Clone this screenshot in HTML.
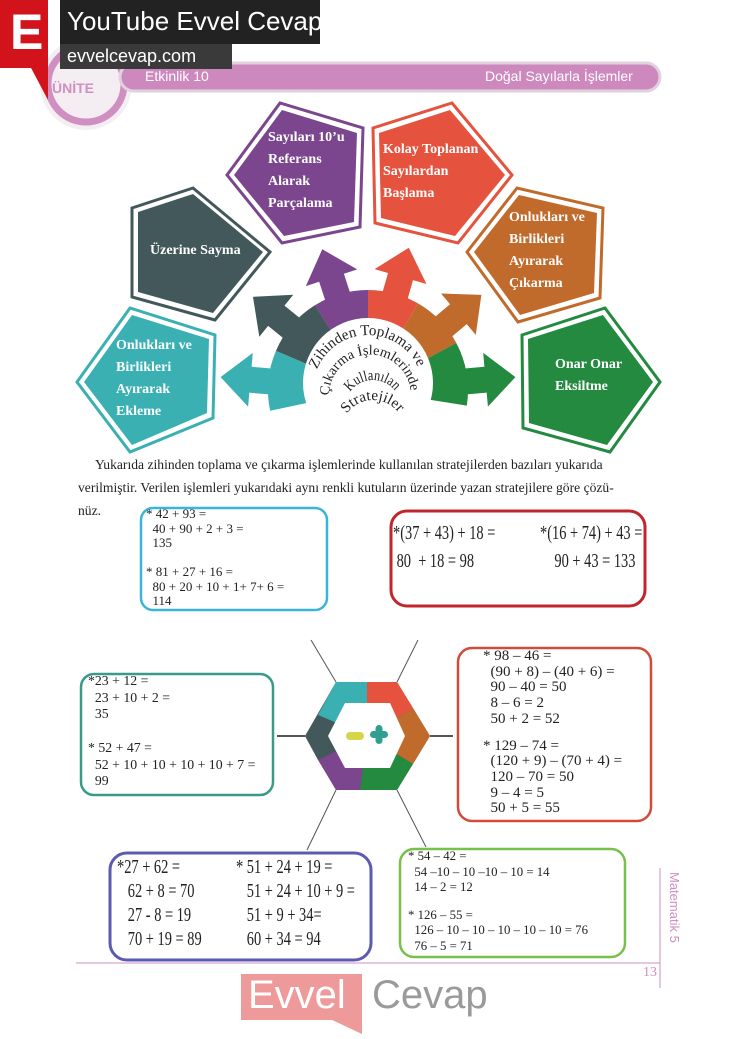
<!DOCTYPE html>
<html><head><meta charset="utf-8"><style>
html,body{margin:0;padding:0;background:#fff;}
body{width:737px;height:1039px;position:relative;overflow:hidden;font-family:"Liberation Serif",serif;}
.a{position:absolute;white-space:nowrap;}
.big{font-family:"Liberation Serif",serif;font-size:20px;color:#222;transform:scaleX(0.72);transform-origin:0 0;}
</style></head><body>
<svg width="737" height="1039" style="position:absolute;left:0;top:0">
<defs>
<polygon id="ar" points="55,-13 118,-13 118,-27 148,0 118,27 118,13 55,13"/>
<path id="l1" d="M317,369.4 A55,55 0 0 1 419,369.4"/>
<path id="l2" d="M329,395.6 A41,41 0 0 1 411,395.6"/>
<path id="l3" d="M350.1,391.9 A28,28 0 0 1 395.9,391.9"/>
<path id="l4" d="M346.8,413.6 A32,32 0 0 1 399.2,413.6"/>
</defs>
<!-- unit circle -->
<circle cx="86" cy="84" r="46" fill="#f4eef3"/>
<circle cx="86" cy="84" r="38" fill="none" stroke="#cf8fc0" stroke-width="7"/>
<rect x="120" y="63" width="540" height="28" rx="14" fill="#cd89bd" stroke="#e0d2dd" stroke-width="3"/>
<!-- header -->
<rect x="0" y="0" width="48" height="68" fill="#d3131c"/>
<polygon points="30,66 48,66 48,100" fill="#d3131c"/>
<rect x="60" y="0" width="260" height="44" fill="#222"/>
<rect x="60" y="44" width="172" height="25" fill="#3a3a3a"/>
<!-- pentagons -->
<g stroke-width="3" fill="none" stroke-linejoin="miter">
<polygon points="227,175 280,103 363,128 360,227 282,243" stroke="#7b468e"/>
<polygon points="234,175 282,110 357,133 354,222 284,236" fill="#7b468e" stroke="none"/>
<polygon points="373,128 452,103 512,175 458,243 375,223" stroke="#e5533f"/>
<polygon points="379,133 450,110 505,175 455,236 381,218" fill="#e5533f" stroke="none"/>
<polygon points="132,208 193,188 270,252 215,320 132,297" stroke="#43585b"/>
<polygon points="138,212 193,194 263,252 213,313 138,292" fill="#43585b" stroke="none"/>
<polygon points="467,252 517,188 603,208 600,298 518,322" stroke="#c06a2c"/>
<polygon points="474,252 519,195 597,213 594,293 520,315" fill="#c06a2c" stroke="none"/>
<polygon points="77,382 130,308 215,335 213,418 130,452" stroke="#3ab0b3"/>
<polygon points="84,382 132,315 209,339 207,413 132,445" fill="#3ab0b3" stroke="none"/>
<polygon points="522,335 605,308 660,382 610,452 523,428" stroke="#238a40"/>
<polygon points="528,339 603,315 653,382 607,445 529,423" fill="#238a40" stroke="none"/>
</g>
<!-- center arrows -->
<g transform="translate(368,390)">
<g transform="rotate(168)"><path d="M0,0 L100,0 A100,100 0 0 1 81.9,57.4 Z" fill="#3ab0b3"/></g>
<g transform="rotate(203)"><path d="M0,0 L100,0 A100,100 0 0 1 81.9,57.4 Z" fill="#43585b"/></g>
<g transform="rotate(238)"><path d="M0,0 L100,0 A100,100 0 0 1 84.8,53 Z" fill="#7b468e"/></g>
<g transform="rotate(270)"><path d="M0,0 L100,0 A100,100 0 0 1 86.6,50 Z" fill="#e5533f"/></g>
<g transform="rotate(300)"><path d="M0,0 L100,0 A100,100 0 0 1 84.8,53 Z" fill="#c06a2c"/></g>
<g transform="rotate(332)"><path d="M0,0 L100,0 A100,100 0 0 1 79.9,60.2 Z" fill="#238a40"/></g>
<use href="#ar" transform="rotate(185)" fill="#3ab0b3"/>
<use href="#ar" transform="rotate(219)" fill="#43585b"/>
<use href="#ar" transform="rotate(252)" fill="#7b468e"/>
<use href="#ar" transform="rotate(286)" fill="#e5533f"/>
<use href="#ar" transform="rotate(320)" fill="#c06a2c"/>
<use href="#ar" transform="rotate(355)" fill="#238a40"/>
</g>
<circle cx="368" cy="383" r="65" fill="#fff"/>
<g font-family="Liberation Serif" font-size="15" fill="#222">
<text><textPath href="#l1" textLength="128" lengthAdjust="spacingAndGlyphs">Zihinden Toplama ve</textPath></text>
<text font-size="14"><textPath href="#l2" textLength="124" lengthAdjust="spacingAndGlyphs">Çıkarma İşlemlerinde</textPath></text>
<text><textPath href="#l3" textLength="52" lengthAdjust="spacingAndGlyphs">Kullanılan</textPath></text>
<text><textPath href="#l4" textLength="60" lengthAdjust="spacingAndGlyphs">Stratejiler</textPath></text>
</g>
<!-- connector lines -->
<g stroke="#555" stroke-width="1">
<line x1="336" y1="682" x2="311" y2="640"/>
<line x1="397" y1="682" x2="418" y2="640"/>
<line x1="277" y1="736" x2="305" y2="736" stroke-width="2"/>
<line x1="430" y1="736" x2="453" y2="736" stroke-width="2"/>
<line x1="336" y1="790" x2="307" y2="850"/>
<line x1="397" y1="790" x2="426" y2="847"/>
</g>
<!-- hexagon -->
<polygon points="336,682 397,682 430,736 397,790 336,790 305,736" fill="#555"/>
<polygon points="336,682 367,682 367,736 318,715" fill="#3ab0b3"/>
<polygon points="367,682 397,682 413,708 367,736" fill="#e5533f"/>
<polygon points="413,708 430,736 413,764 367,736" fill="#c06a2c"/>
<polygon points="413,764 397,790 360,790 367,736" fill="#238a40"/>
<polygon points="360,790 336,790 318,760 367,736" fill="#7b468e"/>
<polygon points="318,760 305,736 318,715 367,736" fill="#43585b"/>
<polygon points="345,703 390,703 405,736 390,768 345,768 328,736" fill="#fff"/>
<rect x="346" y="732" width="18" height="8" rx="4" fill="#d6d54a"/>
<rect x="370" y="731" width="18" height="7" rx="3.5" fill="#2fa090"/>
<rect x="375.5" y="725" width="7" height="19" rx="3.5" fill="#2fa090"/>
<!-- boxes -->
<rect x="141" y="508" width="186" height="102" rx="12" fill="none" stroke="#3ab4d8" stroke-width="2.5"/>
<rect x="391" y="511" width="254" height="95" rx="16" fill="none" stroke="#c0262d" stroke-width="3"/>
<rect x="81" y="674" width="192" height="121" rx="13" fill="none" stroke="#3a9a8a" stroke-width="2.5"/>
<rect x="458" y="648" width="193" height="173" rx="14" fill="none" stroke="#d24b38" stroke-width="2.5"/>
<rect x="110" y="853" width="261" height="107" rx="17" fill="none" stroke="#5c5bb3" stroke-width="3"/>
<rect x="400" y="849" width="225" height="108" rx="14" fill="none" stroke="#77c04a" stroke-width="2.5"/>
<!-- footer -->
<line x1="76" y1="963" x2="660" y2="963" stroke="#cf8fc0" stroke-width="1"/>
<line x1="660" y1="868" x2="660" y2="988" stroke="#cf8fc0" stroke-width="1"/>
<rect x="241" y="974" width="121" height="46" fill="#ee9a9a"/>
<polygon points="330,1019 362,1019 362,1034" fill="#ee9a9a"/>
</svg>

<div class="a" style="left:10px;top:2px;font-family:'Liberation Sans',sans-serif;font-weight:bold;font-size:50px;line-height:60px;color:#fff;">E</div>
<div class="a" style="left:67px;top:4px;font-family:'Liberation Sans',sans-serif;font-size:26px;line-height:34px;color:#fff;">YouTube Evvel Cevap</div>
<div class="a" style="left:67px;top:45px;font-family:'Liberation Sans',sans-serif;font-size:18px;line-height:22px;color:#fff;">evvelcevap.com</div>
<div class="a" style="left:52px;top:80px;font-family:'Liberation Sans',sans-serif;font-size:14px;color:#cf8fc0;font-weight:bold;">ÜNİTE</div>
<div class="a" style="left:145px;top:68px;font-family:'Liberation Sans',sans-serif;font-size:14px;color:#fff;">Etkinlik 10</div>
<div class="a" style="left:485px;top:68px;font-family:'Liberation Sans',sans-serif;font-size:14px;color:#fff;">Doğal Sayılarla İşlemler</div>

<div class="a" style="left:268px;top:127px;font-weight:bold;font-size:14px;line-height:22px;color:#fff;">Sayıları 10’u<br>Referans<br>Alarak<br>Parçalama</div>
<div class="a" style="left:383px;top:139px;font-weight:bold;font-size:14px;line-height:22px;color:#fff;">Kolay Toplanan<br>Sayılardan<br>Başlama</div>
<div class="a" style="left:150px;top:241px;font-weight:bold;font-size:14px;line-height:20px;color:#fff;">Üzerine Sayma</div>
<div class="a" style="left:509px;top:207px;font-weight:bold;font-size:14px;line-height:22px;color:#fff;">Onlukları ve<br>Birlikleri<br>Ayırarak<br>Çıkarma</div>
<div class="a" style="left:116px;top:335px;font-weight:bold;font-size:14px;line-height:22px;color:#fff;">Onlukları ve<br>Birlikleri<br>Ayırarak<br>Ekleme</div>
<div class="a" style="left:555px;top:354px;font-weight:bold;font-size:14px;line-height:22px;color:#fff;">Onar Onar<br>Eksiltme</div>

<div class="a" style="left:95px;top:457px;font-size:13.6px;color:#222;">Yukarıda zihinden toplama ve çıkarma işlemlerinde kullanılan stratejilerden bazıları yukarıda</div>
<div class="a" style="left:78px;top:480px;font-size:13.6px;color:#222;">verilmiştir. Verilen işlemleri yukarıdaki aynı renkli kutuların üzerinde yazan stratejilere göre çözü-</div>
<div class="a" style="left:78px;top:503px;font-size:13.6px;color:#222;">nüz.</div>

<div class="a" style="left:146px;top:507px;font-size:13px;line-height:14.5px;color:#222;">* 42 + 93 =<br>&nbsp;&nbsp;40 + 90 + 2 + 3 =<br>&nbsp;&nbsp;135<br><br>* 81 + 27 + 16 =<br>&nbsp;&nbsp;80 + 20 + 10 + 1+ 7+ 6 =<br>&nbsp;&nbsp;114</div>
<div class="a big" style="left:393px;top:519px;line-height:28px;">*(37 + 43) + 18 =<br>&nbsp;80&nbsp; + 18 = 98</div>
<div class="a big" style="left:540px;top:519px;line-height:28px;">*(16 + 74) + 43 =<br>&nbsp;&nbsp;&nbsp;&nbsp;90 + 43 = 133</div>
<div class="a" style="left:88px;top:673px;font-size:13.8px;line-height:16.7px;color:#222;">*23 + 12 =<br>&nbsp;&nbsp;23 + 10 + 2 =<br>&nbsp;&nbsp;35<br><br>* 52 + 47 =<br>&nbsp;&nbsp;52 + 10 + 10 + 10 + 10 + 7 =<br>&nbsp;&nbsp;99</div>
<div class="a" style="left:483px;top:649px;font-size:15px;line-height:15.7px;color:#222;">* 98 – 46 =<br>&nbsp;&nbsp;(90 + 8) – (40 + 6) =<br>&nbsp;&nbsp;90 – 40 = 50<br>&nbsp;&nbsp;8 – 6 = 2<br>&nbsp;&nbsp;50 + 2 = 52<br><span style="display:inline-block;margin-top:11px">* 129 – 74 =</span><br>&nbsp;&nbsp;(120 + 9) – (70 + 4) =<br>&nbsp;&nbsp;120 – 70 = 50<br>&nbsp;&nbsp;9 – 4 = 5<br>&nbsp;&nbsp;50 + 5 = 55</div>
<div class="a big" style="left:117px;top:855px;line-height:24px;">*27 + 62 =<br>&nbsp;&nbsp;&nbsp;62 + 8 = 70<br>&nbsp;&nbsp;&nbsp;27 - 8 = 19<br>&nbsp;&nbsp;&nbsp;70 + 19 = 89</div>
<div class="a big" style="left:236px;top:855px;line-height:24px;">* 51 + 24 + 19 =<br>&nbsp;&nbsp;&nbsp;51 + 24 + 10 + 9 =<br>&nbsp;&nbsp;&nbsp;51 + 9 + 34=<br>&nbsp;&nbsp;&nbsp;60 + 34 = 94</div>
<div class="a" style="left:408px;top:849px;font-size:12.8px;line-height:15.6px;color:#222;">* 54 – 42 =<br>&nbsp;&nbsp;54 –10 – 10 –10 – 10 = 14<br>&nbsp;&nbsp;14 – 2 = 12<br><span style="display:inline-block;margin-top:12px">* 126 – 55 =</span><br>&nbsp;&nbsp;126 – 10 – 10 – 10 – 10 – 10 = 76<br>&nbsp;&nbsp;76 – 5 = 71</div>

<div class="a" style="left:643px;top:965px;font-size:14px;color:#cf8fc0;">13</div>
<div class="a" style="top:872px;font-family:'Liberation Sans',sans-serif;font-size:13px;color:#cf8fc0;transform:rotate(90deg);transform-origin:0 0;left:682px;">Matematik 5</div>
<div class="a" style="left:248px;top:972px;font-family:'Liberation Sans',sans-serif;font-size:40px;line-height:46px;color:#fff;">Evvel</div>
<div class="a" style="left:372px;top:972px;font-family:'Liberation Sans',sans-serif;font-size:40px;line-height:46px;color:#9a9a9a;">Cevap</div>
</body></html>
